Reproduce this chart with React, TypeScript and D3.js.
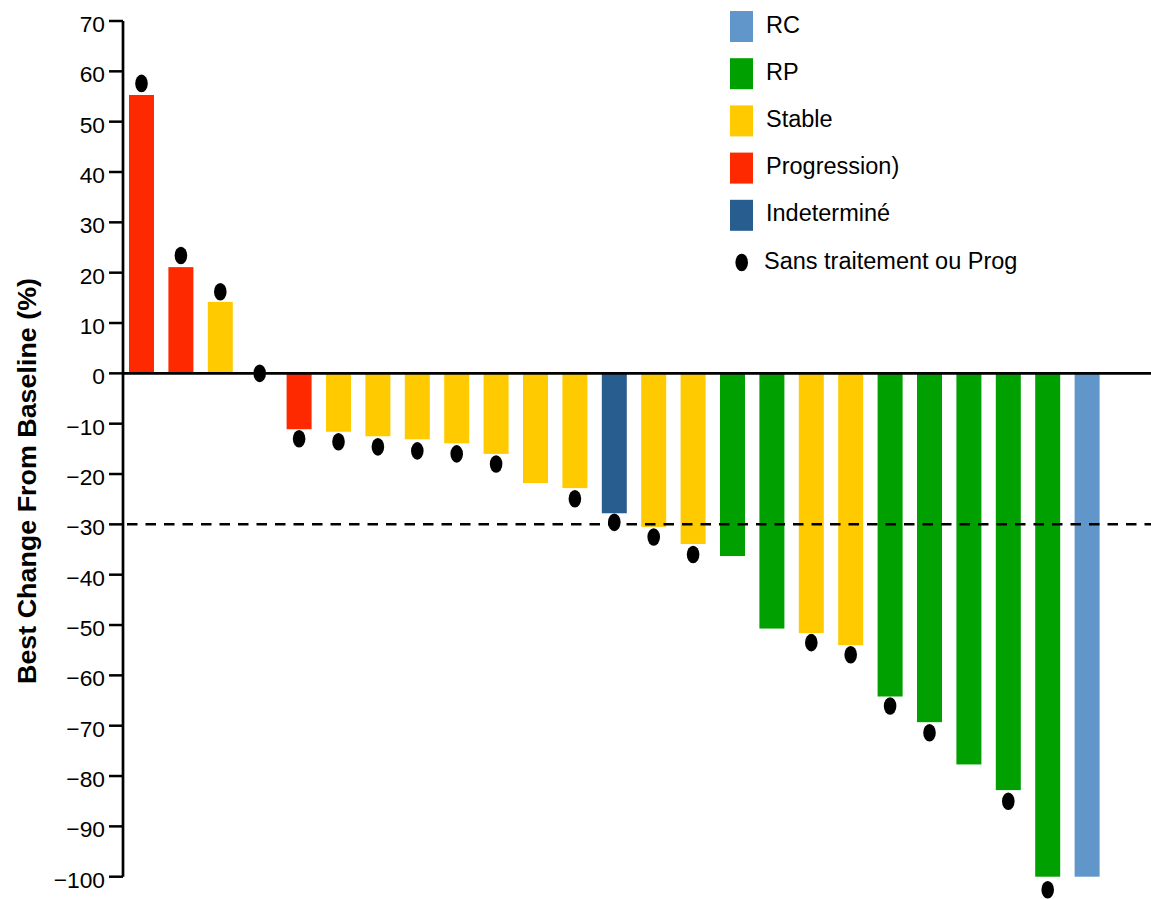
import React from "react";
import * as d3 from "d3";

const patients = d3.range(1, 26).map(String);
const bestChange = [55.3, 21.1, 14.2, 0, -11.1, -11.6, -12.5, -13.1, -13.9, -16.0, -21.8, -22.8, -27.8, -30.5, -33.9, -36.3, -50.7, -51.6, -54.0, -64.2, -69.3, -77.7, -82.8, -100, -100];
const responses = ["Progression", "Progression", "Stable", "Stable", "Progression", "Stable", "Stable", "Stable", "Stable", "Stable", "Stable", "Stable", "Indeterminé", "Stable", "Stable", "RP", "RP", "Stable", "Stable", "RP", "RP", "RP", "RP", "RP", "RC"];
// marker value (null = no marker)
const markerValues: (number | null)[] = [57.6, 23.4, 16.2, 0, -13.0, -13.6, -14.6, -15.4, -16.0, -18.0, null, -24.9, -29.6, -32.5, -36.0, null, null, -53.5, -55.9, -66.1, -71.4, null, -85.0, -102.6, null];
const yTicks = [70, 60, 50, 40, 30, 20, 10, 0, -10, -20, -30, -40, -50, -60, -70, -80, -90, -100];
const threshold = -30;
const legendLabels = ["RC", "RP", "Stable", "Progression)", "Indeterminé"];
const legendKeys = ["RC", "RP", "Stable", "Progression", "Indeterminé"];
const markerLabel = "Sans traitement ou Prog";
const yTitle = "Best Change From Baseline (%)";
const colors: Record<string, string> = {
  RC: "#6096c9",
  RP: "#00a000",
  Stable: "#ffcb00",
  Progression: "#ff2900",
  "Indeterminé": "#285d8f",
};

const W = 1151;
const H = 899;
const FONT = "'Liberation Sans', Arial, Helvetica, sans-serif";

export default function App() {
  const axisX = 123;
  const y = d3.scaleLinear().domain([-100, 70]).range([876.7, 21]);
  const x = d3
    .scaleBand<string>()
    .domain(patients)
    .range([129, 1099.6])
    .paddingInner(0.3655)
    .paddingOuter(0);
  const bw = x.bandwidth();
  const legendY = (i: number) => 11 + i * 47.2;

  return (
    <svg
      width={W}
      height={H}
      style={{ position: "absolute", left: 0, top: 0, display: "block", background: "#fff" }}
      fontFamily={FONT}
    >
      {/* bars */}
      {patients.map((p, i) => {
        const v = bestChange[i];
        if (v === 0) return null;
        const y0 = y(0);
        const y1 = y(v);
        return (
          <rect
            key={"b" + p}
            x={x(p)}
            width={bw}
            y={Math.min(y0, y1)}
            height={Math.abs(y1 - y0)}
            fill={colors[responses[i]]}
          />
        );
      })}
      {/* zero line */}
      <line x1={axisX} x2={W} y1={y(0)} y2={y(0)} stroke="#000" strokeWidth={2.8} />
      {/* threshold dashed line */}
      <line
        x1={axisX + 4}
        x2={W}
        y1={y(threshold)}
        y2={y(threshold)}
        stroke="#000"
        strokeWidth={2.5}
        strokeDasharray="10.5 8"
      />
      {/* markers */}
      {patients.map((p, i) => {
        const m = markerValues[i];
        if (m === null) return null;
        return (
          <ellipse key={"m" + p} cx={(x(p) as number) + bw / 2} cy={y(m)} rx={6.3} ry={8.8} fill="#000" />
        );
      })}
      {/* y axis */}
      <line x1={axisX} x2={axisX} y1={y(70)} y2={y(-100)} stroke="#000" strokeWidth={2.7} />
      {yTicks.map((t) => (
        <g key={"t" + t}>
          <line x1={axisX - 14} x2={axisX} y1={y(t)} y2={y(t)} stroke="#000" strokeWidth={2.5} />
          <text x={axisX - 18} y={y(t) + 11} textAnchor="end" fontSize={22.8} fill="#000">
            {t < 0 ? "\u2212" + Math.abs(t) : String(t)}
          </text>
        </g>
      ))}
      <text
        transform={`translate(36, 481) rotate(-90)`}
        textAnchor="middle"
        fontSize={26}
        fontWeight="bold"
        fill="#000"
        textLength={406}
        lengthAdjust="spacingAndGlyphs"
      >
        {yTitle}
      </text>
      {/* legend */}
      {legendKeys.map((k, i) => (
        <g key={"l" + k}>
          <rect x={730} y={legendY(i)} width={23} height={31} fill={colors[k]} />
          <text x={766} y={legendY(i) + 21.5} fontSize={23.5} fill="#000">
            {legendLabels[i]}
          </text>
        </g>
      ))}
      <ellipse cx={741.7} cy={legendY(5) + 15.5} rx={6.3} ry={8.8} fill="#000" />
      <text x={764} y={legendY(5) + 21.5} fontSize={23.5} fill="#000">
        {markerLabel}
      </text>
    </svg>
  );
}
